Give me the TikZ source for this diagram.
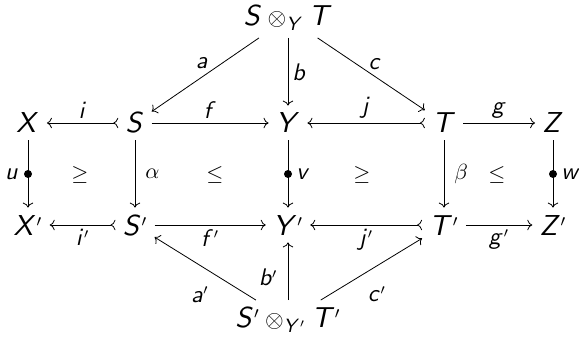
\documentclass[tikz,border=0pt]{standalone}
\usepackage{amsmath,amssymb}
\usetikzlibrary{arrows.meta, positioning}
\DeclareFontFamily{OT1}{cmssbig}{}
\DeclareFontShape{OT1}{cmssbig}{m}{sl}{<-> s*[1.2] cmssi10}{}
\DeclareSymbolFont{sfit}{OT1}{cmssbig}{m}{sl}
\DeclareMathSymbol{S}{\mathalpha}{sfit}{`S}
\DeclareMathSymbol{T}{\mathalpha}{sfit}{`T}
\DeclareMathSymbol{X}{\mathalpha}{sfit}{`X}
\DeclareMathSymbol{Y}{\mathalpha}{sfit}{`Y}
\DeclareMathSymbol{Z}{\mathalpha}{sfit}{`Z}
\DeclareMathSymbol{a}{\mathalpha}{sfit}{`a}
\DeclareMathSymbol{b}{\mathalpha}{sfit}{`b}
\DeclareMathSymbol{c}{\mathalpha}{sfit}{`c}
\DeclareMathSymbol{f}{\mathalpha}{sfit}{`f}
\DeclareMathSymbol{g}{\mathalpha}{sfit}{`g}
\DeclareMathSymbol{i}{\mathalpha}{sfit}{`i}
\DeclareMathSymbol{j}{\mathalpha}{sfit}{`j}
\DeclareMathSymbol{u}{\mathalpha}{sfit}{`u}
\DeclareMathSymbol{v}{\mathalpha}{sfit}{`v}
\DeclareMathSymbol{w}{\mathalpha}{sfit}{`w}

\begin{document}
\begin{tikzpicture}[x=0.5pt, y=-0.5pt, obj/.style={inner sep=3.5pt, font=\fontsize{12}{14}\selectfont}, lbl/.style={inner sep=2pt, font=\fontsize{10}{12}\selectfont}, grk/.style={inner sep=2pt, font=\fontsize{11}{13}\selectfont}, rel/.style={font=\fontsize{11}{13}\selectfont}, ar/.style={-To}, mono/.style={{To[reversed]}-To}, blob/.style={circle, fill, inner sep=0pt, minimum size=4pt}]
\useasboundingbox (0,0) rectangle (579,342);
\node[obj] (ST) at (288,18) {$S \otimes_Y T$};
\node[obj] (X) at (28,123) {$X$};
\node[obj] (S) at (135,123) {$S$};
\node[obj] (Y) at (288,123) {$Y$};
\node[obj] (T) at (444,123) {$T$};
\node[obj] (Z) at (553,123) {$Z$};
\node[obj] (Xp) at (28,225) {$X'$};
\node[obj] (Sp) at (135,225) {$S'$};
\node[obj] (Yp) at (288,225) {$Y'$};
\node[obj] (Tp) at (444,225) {$T'$};
\node[obj] (Zp) at (553,225) {$Z'$};
\node[obj] (STp) at (288,320) {$S' \otimes_{Y'} T'$};
\draw[mono] (S) -- node[lbl, above] {$i$} (X);
\draw[ar] (S) -- node[lbl, above] {$f$} (Y);
\draw[mono] (T) -- node[lbl, above] {$j$} (Y);
\draw[ar] (T) -- node[lbl, above] {$g$} (Z);
\draw[mono] (Sp) -- node[lbl, below] {$i'$} (Xp);
\draw[ar] (Sp) -- node[lbl, below] {$f'$} (Yp);
\draw[mono] (Tp) -- node[lbl, below] {$j'$} (Yp);
\draw[ar] (Tp) -- node[lbl, below] {$g'$} (Zp);
\draw[ar] (X) -- node[blob] {} node[lbl, left=2.5pt] {$u$} (Xp);
\draw[ar] (S) -- node[grk, right=3pt] {$\alpha$} (Sp);
\draw[ar] (Y) -- node[blob] {} node[lbl, right=2pt] {$v$} (Yp);
\draw[ar] (T) -- node[grk, right=3pt] {$\beta$} (Tp);
\draw[ar] (Z) -- node[blob] {} node[lbl, right=2pt] {$w$} (Zp);
\draw[ar] (ST) -- node[lbl, above left=1pt and -3.5pt] {$a$} (S);
\draw[ar] (ST) -- node[lbl, right] {$b$} (Y);
\draw[ar] (ST) -- node[lbl, above right=0pt and -3.5pt] {$c$} (T);
\draw[ar] (STp) -- node[lbl, below left=7pt and -4pt] {$a'$} (Sp);
\draw[ar] (STp) -- node[lbl, pos=0.4, left=3pt] {$b'$} (Yp);
\draw[ar] (STp) -- node[lbl, below right=6.5pt and -4pt] {$c'$} (Tp);
\node[rel] (r1) at (80,175) {$\geq$};
\node[rel] (r2) at (215,175) {$\leq$};
\node[rel] (r3) at (362,175) {$\geq$};
\node[rel] (r4) at (497,175) {$\leq$};
\end{tikzpicture}
\end{document}
